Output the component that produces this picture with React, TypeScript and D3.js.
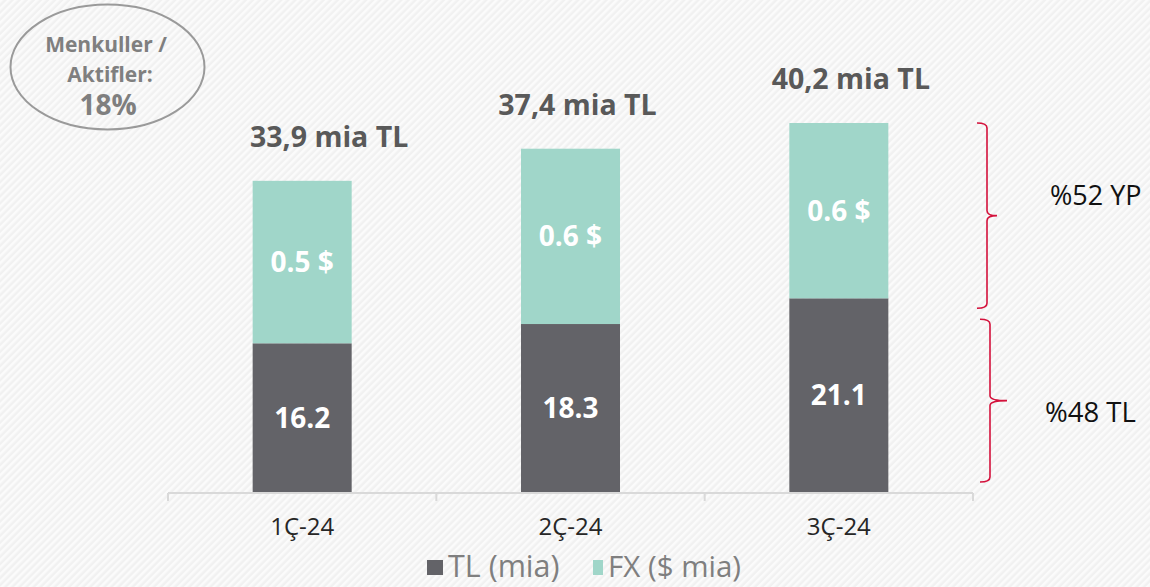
import React from "react";
import * as d3 from "d3";

const categories = ["1Ç-24", "2Ç-24", "3Ç-24"];
const tlValues = [16.2, 18.3, 21.1];
const totalValues = [33.9, 37.4, 40.2];
const fxUsdValues = [0.5, 0.6, 0.6];
const legendLabels = ["TL (mia)", "FX ($ mia)"];
const shareLabels = ["%52 YP", "%48 TL"];
const badgeLines = ["Menkuller /", "Aktifler:", "18%"];

// layout-only: horizontal nudge of each total label from its bar centre
const totalLabelShift = [27, 7, 12];

const W = 1150;
const H = 587;
const C_TL = "#636368";
const C_FX = "#a0d6c9";
const FONT = "'Open Sans', 'Noto Sans', sans-serif";

function brace(x: number, y0: number, y1: number, left: number, tip: number) {
  const ym = (y0 + y1) / 2;
  const r = 5;
  return [
    `M${x - left},${y0}`,
    `Q${x},${y0} ${x},${y0 + r}`,
    `L${x},${ym - r}`,
    `Q${x},${ym} ${x + tip},${ym}`,
    `Q${x},${ym} ${x},${ym + r}`,
    `L${x},${y1 - r}`,
    `Q${x},${y1} ${x - left},${y1}`,
  ].join(" ");
}

export default function App() {
  const x = d3
    .scaleBand<string>()
    .domain(categories)
    .range([168, 973])
    .paddingInner(0.631)
    .paddingOuter(0.3155);
  const y = d3.scaleLinear().domain([0, 40.2]).range([492, 123]);
  const step = x.step();
  const bw = x.bandwidth();
  const fmtComma = (v: number) => d3.format(".1f")(v).replace(".", ",");

  const last = categories.length - 1;
  const upper = { x: 987, y0: y(totalValues[last]), y1: y(tlValues[last]) + 10 };
  const lower = { x: 990, y0: y(tlValues[last]) + 21, y1: y(0) - 10 };

  return (
    <svg
      width={W}
      height={H}
      style={{ position: "absolute", left: 0, top: 0, display: "block" }}
      fontFamily={FONT}
    >
      <defs>
        <pattern id="bgStripe" width="5" height="5" patternUnits="userSpaceOnUse" patternTransform="rotate(45)">
          <rect width="5" height="5" fill="#f1f1f1" />
          <rect width="2.5" height="5" fill="#fbfbfb" />
        </pattern>
      </defs>
      <rect width={W} height={H} fill="url(#bgStripe)" />

      {/* badge */}
      <ellipse cx={107.5} cy={67} rx={97} ry={62.5} fill="none" stroke="#9a9a9a" strokeWidth={2} />
      <text x={106} y={52} textAnchor="middle" fontSize={21} fontWeight={700} fill="#7f7f7f">{badgeLines[0]}</text>
      <text x={110} y={82} textAnchor="middle" fontSize={21} fontWeight={700} fill="#7f7f7f">{badgeLines[1]}</text>
      <text x={108} y={115} textAnchor="middle" fontSize={28} fontWeight={700} fill="#7f7f7f">{badgeLines[2]}</text>

      {/* axis */}
      <line x1={168} x2={973} y1={493} y2={493} stroke="#d9d9d9" strokeWidth={2} />
      {d3.range(categories.length + 1).map((i) => (
        <line key={i} x1={168 + i * step} x2={168 + i * step} y1={493} y2={501} stroke="#d9d9d9" strokeWidth={2} />
      ))}

      {/* bars */}
      {categories.map((c, i) => {
        const x0 = x(c)!;
        const cx = x0 + bw / 2;
        const yTl = y(tlValues[i]);
        const yTot = y(totalValues[i]);
        return (
          <g key={c}>
            <rect x={x0} y={yTl} width={bw} height={y(0) - yTl} fill={C_TL} />
            <rect x={x0} y={yTot} width={bw} height={yTl - yTot} fill={C_FX} />
            <text x={cx} y={(yTl + y(0)) / 2} dy="0.36em" textAnchor="middle" fontSize={28} fontWeight={700} fill="#ffffff">
              {d3.format(".1f")(tlValues[i])}
            </text>
            <text x={cx} y={(yTot + yTl) / 2} dy="0.36em" textAnchor="middle" fontSize={28} fontWeight={700} fill="#ffffff">
              {`${d3.format(".1f")(fxUsdValues[i])} $`}
            </text>
            <text x={cx + totalLabelShift[i]} y={yTot - 34} textAnchor="middle" fontSize={28.5} fontWeight={700} fill="#595959">
              {`${fmtComma(totalValues[i])} mia TL`}
            </text>
            <text x={cx} y={535} textAnchor="middle" fontSize={24} fill="#262626">{c}</text>
          </g>
        );
      })}

      {/* braces */}
      <path d={brace(upper.x, upper.y0, upper.y1, 10, 10)} fill="none" stroke="#d4123c" strokeWidth={1.6} />
      <path d={brace(lower.x, lower.y0, lower.y1, 10, 17)} fill="none" stroke="#d4123c" strokeWidth={1.6} />
      <text x={1050} y={(upper.y0 + upper.y1) / 2 - 20} dy="0.36em" fontSize={27} fill="#111111">{shareLabels[0]}</text>
      <text x={1045} y={(lower.y0 + lower.y1) / 2 + 11} dy="0.36em" fontSize={27.5} fill="#111111">{shareLabels[1]}</text>

      {/* legend */}
      <rect x={427} y={560} width={16} height={15} fill={C_TL} />
      <text x={448} y={577} fontSize={30.5} fill="#7f7f7f">{legendLabels[0]}</text>
      <rect x={593} y={560} width={10} height={15} fill={C_FX} />
      <text x={608} y={577} fontSize={29.5} fill="#7f7f7f">{legendLabels[1]}</text>
    </svg>
  );
}
